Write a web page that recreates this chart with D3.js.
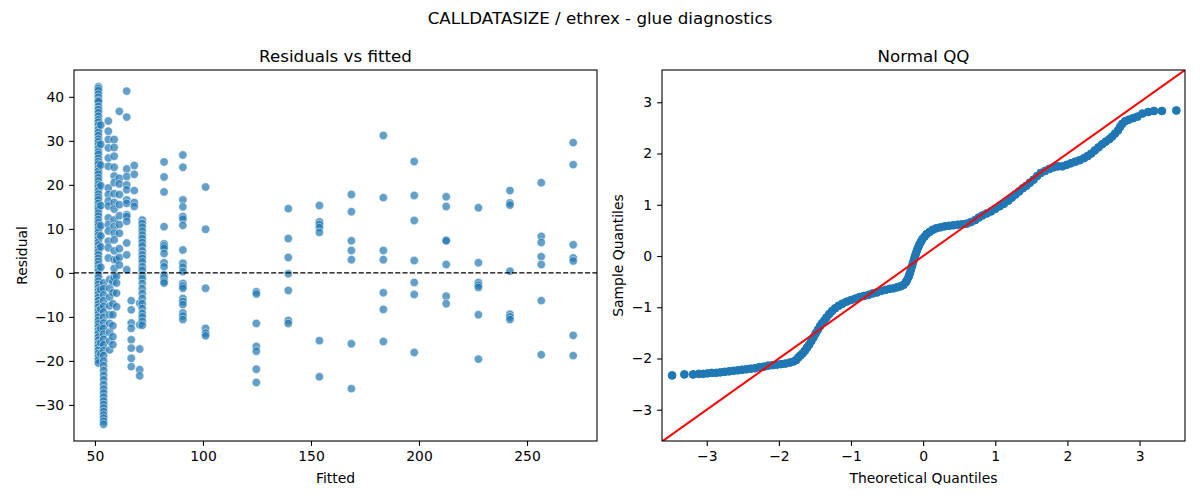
<!DOCTYPE html>
<html>
<head>
<meta charset="utf-8">
<script src="https://cdn.jsdelivr.net/npm/d3@7"></script>
<style>
  body { margin: 0; background: #fff; }
  text { font-family: "DejaVu Sans", sans-serif; fill: #000; }
</style>
</head>
<body>
<svg id="chart" width="1200" height="500"></svg>
<script>
const fittedLevels = [51.6, 52.7, 54.0, 56.2, 56.8, 58.3, 58.9, 60.0, 61.3, 64.7, 66.8, 68.2, 70.7, 71.9,
  82.0, 90.7, 101.2, 124.7, 139.5, 153.9, 168.7, 183.5, 197.8, 212.6, 227.5, 242.1, 256.6, 271.4];

const residualsByLevel = [
  [42.3, 41.9, 41.4, 40.6, 39.9, 39.2, 38.9, 37.8, 37.1, 36.4, 35.6, 34.8, 34.2, 33.5, 32.6, 31.9,
   31.2, 30.4, 29.8, 29.1, 28.3, 27.5, 26.9, 26.0, 25.3, 24.7, 23.8, 23.1, 22.4, 21.6, 20.9, 20.1,
   19.5, 18.7, 17.9, 17.2, 16.6, 15.8, 15.0, 14.4, 13.6, 12.9, 12.1, 11.4, 10.7, 9.9, 9.2, 8.5,
   7.7, 7.0, 6.3, 5.5, 4.8, 4.1, 3.3, 2.6, 1.9, 1.1, 0.4, -0.4, -1.1, -1.9, -2.6, -3.4, -4.1, -4.8,
   -5.6, -6.3, -7.1, -7.8, -8.6, -9.3, -10.1, -10.8, -11.6, -12.3, -13.1, -13.8, -14.6, -15.3,
   -16.1, -16.8, -17.6, -18.3, -19.1, -19.8, -20.5],
  [33.6, 29.2, 24.5, 19.8, 15.3, 10.7, 8.4, 5.9, 1.3, -3.8, -8.2, -12.6, -15.9, -18.4],
  [-2.3, -3.6, -5.0, -6.3, -7.6, -8.9, -10.1, -11.4, -12.6, -13.9, -15.1, -16.3, -17.6, -18.8,
   -20.0, -21.1, -22.2, -23.3, -24.3, -25.4, -26.4, -27.3, -28.2, -29.1, -29.9, -30.7, -31.5,
   -32.3, -33.0, -33.7, -34.4],
  [34.5, 32.2, 30.3, 28.4, 26.1, 24.2, 19.3, 17.8, 16.3, 15.2, 12.5, 11.0, 9.5, 7.2, 5.7, 3.4],
  [-1.5, -3.5, -5.5, -7.5, -9.5, -11.5, -13.5, -15.5, -17.5],
  [-2.0, -4.5, -7.0, -9.5, -12.0, -14.5, -16.3],
  [30.3, 28.5, 26.5, 24.0, 22.0, 20.5, 18.0, 16.0, 14.5, 12.0, 10.5, 9.0, 7.5, 5.0, 3.0, 1.0, -1.0],
  [3.0, -0.8, -2.3, -4.6, -7.7],
  [36.7, 21.5, 20.2, 17.8, 15.5, 13.0, 11.0, 9.0, 5.5, 3.5, 1.8],
  [41.3, 35.4, 23.6, 21.9, 20.0, 18.9, 16.6, 15.8, 13.2, 12.8, 11.7, 6.8, 4.1, 0.7],
  [-6.3, -8.4, -11.4, -12.6, -15.2, -17.1, -19.4, -21.3],
  [24.4, 22.4, 18.7, 16.0, 15.1],
  [-6.9, -11.8, -17.3, -22.0, -23.4],
  [12.0, 11.2, 10.4, 9.5, 8.6, 7.8, 6.9, 6.1, 5.0, 4.1, 3.3, 2.5, 1.4, 0.6, -0.5, -1.3, -2.4,
   -3.6, -4.7, -5.8, -7.0, -8.1, -9.2, -10.0, -11.0, -11.9],
  [25.2, 21.8, 18.4, 10.5, 6.6, 6.1, 5.6, 4.4, 2.3, 1.4, -0.4, -1.1, -1.9, -2.3],
  [26.8, 24.0, 16.6, 15.0, 12.8, 12.2, 10.8, 5.2, 2.2, 1.3, 0.3, -2.4, -3.0, -3.5, -5.8, -6.5,
   -7.2, -9.1, -9.8, -10.6],
  [19.5, 9.9, -3.5, -12.6, -13.7, -14.3],
  [-4.3, -4.8, -11.5, -16.7, -17.8, -21.9, -24.9],
  [14.6, 7.8, 3.5, -0.2, -4.0, -10.8, -11.5],
  [15.3, 11.6, 11.0, 10.3, 9.2, -15.4, -23.6],
  [17.8, 13.9, 7.3, 5.1, 3.0, -16.1, -26.3],
  [31.2, 17.1, 5.1, 3.0, -4.5, -8.3, -15.6],
  [25.3, 17.6, 11.9, 2.8, -2.2, -4.9, -18.1],
  [17.3, 15.1, 7.4, 7.3, 1.9, -5.3, -7.0],
  [14.8, 2.3, -2.2, -2.8, -3.3, -9.5, -19.6],
  [18.7, 15.9, 15.4, 0.4, -9.4, -10.0, -10.6],
  [20.5, 8.3, 6.9, 3.7, 1.9, -6.3, -18.6],
  [29.6, 24.6, 6.4, 3.4, 2.7, -14.2, -18.8]
];

// normal QQ: theoretical quantile and sample quantile, read along the plotted band
const qqTheoretical = [-3.48, -3.31, -3.19, -3.11, -3.05, -2.99, -2.93, -2.87, -2.81, -2.75, -2.69,
  -2.63, -2.57, -2.51, -2.45, -2.39, -2.33, -2.27, -2.21, -2.15, -2.09, -2.03, -1.97, -1.91, -1.85,
  -1.80, -1.76, -1.73, -1.70, -1.67, -1.64, -1.61, -1.58, -1.55, -1.52, -1.49, -1.46, -1.43, -1.40,
  -1.37, -1.34, -1.30, -1.26, -1.22, -1.17, -1.12, -1.06, -1.00, -0.94, -0.88, -0.82, -0.76, -0.70,
  -0.64, -0.58, -0.52, -0.46, -0.41, -0.36, -0.31, -0.27, -0.24, -0.22, -0.20, -0.185, -0.17,
  -0.155, -0.14, -0.125, -0.11, -0.095, -0.08, -0.065, -0.05, -0.03, -0.01, 0.02, 0.05, 0.09,
  0.13, 0.18, 0.24, 0.30, 0.36, 0.42, 0.48, 0.54, 0.60, 0.66, 0.72, 0.77, 0.82, 0.88, 0.94, 1.00,
  1.06, 1.12, 1.18, 1.23, 1.28, 1.33, 1.38, 1.43, 1.48, 1.53, 1.58, 1.63, 1.69, 1.75, 1.81, 1.87,
  1.93, 1.99, 2.05, 2.11, 2.17, 2.23, 2.28, 2.33, 2.38, 2.43, 2.48, 2.53, 2.58, 2.62, 2.66, 2.70,
  2.73, 2.76, 2.80, 2.85, 2.91, 2.97, 3.04, 3.12, 3.20, 3.31, 3.51];
const qqSample = [-2.33, -2.31, -2.31, -2.30, -2.30, -2.29, -2.28, -2.28, -2.27, -2.26, -2.25,
  -2.24, -2.23, -2.22, -2.21, -2.20, -2.19, -2.17, -2.16, -2.14, -2.13, -2.12, -2.11, -2.10, -2.08,
  -2.06, -2.03, -1.98, -1.94, -1.90, -1.85, -1.79, -1.73, -1.66, -1.59, -1.51, -1.44, -1.37, -1.31,
  -1.26, -1.20, -1.13, -1.07, -1.02, -0.97, -0.93, -0.89, -0.86, -0.83, -0.80, -0.78, -0.76, -0.73,
  -0.71, -0.68, -0.66, -0.64, -0.63, -0.61, -0.59, -0.56, -0.51, -0.46, -0.40, -0.34, -0.27,
  -0.20, -0.13, -0.06, 0.01, 0.07, 0.13, 0.18, 0.23, 0.28, 0.33, 0.38, 0.43, 0.47,
  0.51, 0.54, 0.56, 0.58, 0.59, 0.60, 0.61, 0.62, 0.63, 0.66, 0.70, 0.75, 0.79, 0.83, 0.87, 0.92,
  0.97, 1.02, 1.08, 1.14, 1.20, 1.26, 1.32, 1.37, 1.43, 1.49, 1.56, 1.62, 1.66, 1.70, 1.73, 1.75,
  1.75, 1.78, 1.81, 1.84, 1.87, 1.91, 1.95, 2.00, 2.06, 2.12, 2.18, 2.23, 2.28, 2.33, 2.39, 2.45,
  2.52, 2.58, 2.63, 2.66, 2.69, 2.72, 2.78, 2.81, 2.83, 2.83, 2.84];

const fittedTicks = [50, 100, 150, 200, 250];
const residualTicks = [-30, -20, -10, 0, 10, 20, 30, 40];
const quantileTicks = [-3, -2, -1, 0, 1, 2, 3];

const svg = d3.select("#chart");
const fmt = d3.format("");

const panelL = { x: 74, y: 70, w: 523, h: 371 };
const panelR = { x: 662, y: 70, w: 523, h: 371 };

function drawAxes(p, x, y, xt, yt) {
  const g = svg.append("g").attr("transform", `translate(${p.x},${p.y})`);
  const xa = g.append("g")
    .attr("transform", `translate(0,${p.h})`)
    .call(d3.axisBottom(x).tickValues(xt).tickFormat(fmt).tickSize(4.9).tickPadding(4.9).tickSizeOuter(0));
  const ya = g.append("g")
    .call(d3.axisLeft(y).tickValues(yt).tickFormat(fmt).tickSize(4.9).tickPadding(4.9).tickSizeOuter(0));
  [xa, ya].forEach(a => {
    a.select(".domain").remove();
    a.selectAll("line").attr("stroke", "#000").attr("stroke-width", 1.1);
    a.selectAll("text").attr("font-size", "13.9px").attr("fill", "#000")
      .style("font-family", "'DejaVu Sans', sans-serif");
  });
  return g;
}

function frame(g, p) {
  g.append("rect")
    .attr("x", 0).attr("y", 0).attr("width", p.w).attr("height", p.h)
    .attr("fill", "none").attr("stroke", "#000").attr("stroke-width", 1.1);
}

// left panel: residuals vs fitted
const xF = d3.scaleLinear().domain([40.3, 282.4]).range([0, panelL.w]);
const yR = d3.scaleLinear().domain([-38.2, 46.1]).range([panelL.h, 0]);
const gL = drawAxes(panelL, xF, yR, fittedTicks, residualTicks);

const points = [];
fittedLevels.forEach((f, i) => residualsByLevel[i].forEach(r => points.push({ f, r })));

gL.append("g").selectAll("circle")
  .data(points)
  .join("circle")
  .attr("cx", d => xF(d.f))
  .attr("cy", d => yR(d.r))
  .attr("r", 4.2)
  .attr("fill", "#1f77b4")
  .attr("fill-opacity", 0.7)
  .attr("stroke", "#fff")
  .attr("stroke-opacity", 0.7)
  .attr("stroke-width", 0.7);

gL.append("line")
  .attr("x1", 0).attr("x2", panelL.w)
  .attr("y1", yR(0)).attr("y2", yR(0))
  .attr("stroke", "#000").attr("stroke-width", 1.4)
  .attr("stroke-dasharray", "5.1,2.2");

frame(gL, panelL);

gL.append("text").attr("x", panelL.w / 2).attr("y", -8.5)
  .attr("text-anchor", "middle").attr("font-size", "16.7px").text("Residuals vs fitted");
gL.append("text").attr("x", panelL.w / 2).attr("y", panelL.h + 42)
  .attr("text-anchor", "middle").attr("font-size", "13.9px").text("Fitted");
svg.append("text").attr("transform", "translate(27,255.5) rotate(-90)")
  .attr("text-anchor", "middle").attr("font-size", "13.9px").text("Residual");

// right panel: normal QQ
const xQ = d3.scaleLinear().domain([-3.62, 3.63]).range([0, panelR.w]);
const yQ = d3.scaleLinear().domain([-3.61, 3.63]).range([panelR.h, 0]);
const gR = drawAxes(panelR, xQ, yQ, quantileTicks, quantileTicks);

gR.append("clipPath").attr("id", "clipQ")
  .append("rect").attr("width", panelR.w).attr("height", panelR.h);

gR.append("g").selectAll("circle")
  .data(qqTheoretical.map((t, i) => ({ t, s: qqSample[i] })))
  .join("circle")
  .attr("cx", d => xQ(d.t))
  .attr("cy", d => yQ(d.s))
  .attr("r", 3.9)
  .attr("fill", "#1f77b4")
  .attr("stroke", "#1f77b4")
  .attr("stroke-width", 1);

gR.append("line")
  .attr("clip-path", "url(#clipQ)")
  .attr("x1", xQ(-4)).attr("y1", yQ(-4))
  .attr("x2", xQ(4)).attr("y2", yQ(4))
  .attr("stroke", "red").attr("stroke-width", 2);

frame(gR, panelR);

gR.append("text").attr("x", panelR.w / 2).attr("y", -8.5)
  .attr("text-anchor", "middle").attr("font-size", "16.7px").text("Normal QQ");
gR.append("text").attr("x", panelR.w / 2).attr("y", panelR.h + 42)
  .attr("text-anchor", "middle").attr("font-size", "13.9px").text("Theoretical Quantiles");
svg.append("text").attr("transform", "translate(623,255.5) rotate(-90)")
  .attr("text-anchor", "middle").attr("font-size", "13.9px").text("Sample Quantiles");

svg.append("text").attr("x", 600).attr("y", 24)
  .attr("text-anchor", "middle").attr("font-size", "16.7px")
  .text("CALLDATASIZE / ethrex - glue diagnostics");
</script>
</body>
</html>
